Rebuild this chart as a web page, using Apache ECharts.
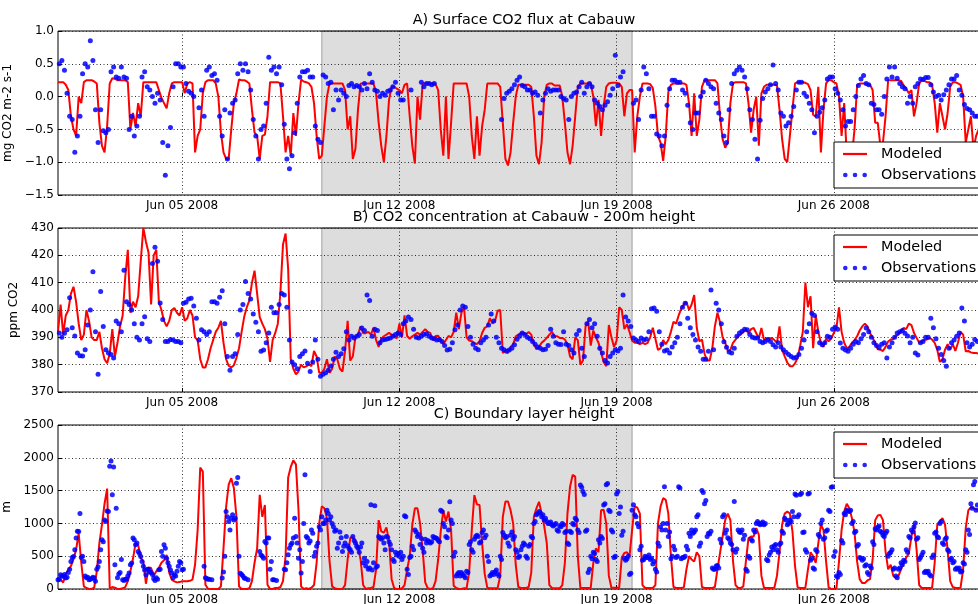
<!DOCTYPE html>
<html><head><meta charset="utf-8">
<script src="https://cdn.jsdelivr.net/npm/echarts@6/dist/echarts.min.js"></script>
<style>html,body{margin:0;padding:0;background:#fff}#c{width:978px;height:604px}</style>
</head><body><div id="c"></div>
<script>
// x values are days since 2008-06-01 00:00
const tickDays = [4, 11, 18, 25];
const tickLabels = ['Jun 05 2008', 'Jun 12 2008', 'Jun 19 2008', 'Jun 26 2008'];
const shadeDays = [8.5, 18.5];
const modelHours = [0, 2, 4, 6, 8, 10, 12, 14, 16, 18, 20, 22];
const obsHours = [1, 3, 5, 7, 9, 11, 13, 15, 17, 19, 21, 23];
const obsHours2 = [0, 2, 4, 6, 8, 10, 12, 14, 16, 18, 20, 22];

// A) Surface CO2 flux (mg CO2 m-2 s-1), one row per day
const fluxModel = [
[0.22,0.22,0.22,0.18,0.1,-0.3,-0.5,-0.6,0.0,-0.1,0.22,0.25],
[0.25,0.25,0.23,0.2,-0.4,-0.75,-0.85,-0.45,0.2,0.28,0.27,0.25],
[0.25,0.25,0.25,0.22,-0.5,-0.25,-0.45,-0.1,-0.3,0.22,0.22,0.22],
[0.22,0.22,0.22,0.1,-0.02,-0.1,-0.18,0.05,0.2,0.22,0.22,0.22],
[0.22,0.05,0.2,0.22,0.2,-0.85,-0.6,-0.5,0.05,0.22,0.25,0.25],
[0.25,0.2,0.0,-0.55,-0.85,-0.95,-0.95,-0.5,-0.1,0.05,0.26,0.25],
[0.25,0.23,0.2,-0.2,-0.55,-0.6,-0.95,-0.6,-0.58,-0.3,0.22,0.22],
[0.22,0.22,0.2,-0.3,-0.85,-0.6,-0.9,-0.25,-0.6,-0.1,0.26,0.23],
[0.22,0.2,0.15,-0.1,-0.6,-0.95,-0.9,-0.45,0.0,0.2,0.2,0.2],
[0.2,0.2,0.2,0.1,-0.5,-0.3,-0.95,-0.8,-0.2,0.2,0.2,0.2],
[0.2,0.2,0.2,0.05,-0.4,-0.75,-1.0,-0.6,-0.05,0.15,0.15,0.12],
[0.1,0.05,0.18,0.2,-0.3,-0.75,-1.02,0.0,-0.35,0.2,0.2,0.2],
[0.2,0.2,0.19,0.1,-0.5,-0.9,0.0,-0.95,-0.4,0.2,0.2,0.2],
[0.2,0.2,0.2,0.0,-0.6,-0.95,-0.3,-0.9,-0.45,-0.2,0.2,0.2],
[0.2,0.2,0.2,0.15,-0.4,-0.95,-1.05,-0.85,-0.4,0.0,0.18,0.18],
[0.18,0.18,0.18,0.15,-0.3,-0.9,-1.03,-0.7,0.0,0.18,0.2,0.2],
[0.17,0.17,0.17,0.0,-0.4,-0.85,-1.03,-0.75,-0.3,0.15,0.2,0.2],
[0.2,0.2,0.2,0.0,-0.45,-0.05,-0.6,-0.15,0.15,0.2,0.21,0.21],
[0.21,0.2,0.15,-0.3,0.05,0.1,0.1,-0.85,-0.3,0.0,0.2,0.2],
[0.2,0.19,0.13,-0.15,-0.6,-0.7,-0.98,-0.6,0.07,0.18,0.2,0.2],
[0.2,0.2,0.2,0.18,-0.1,-0.6,0.05,-0.6,-0.35,0.15,0.25,0.25],
[0.25,0.25,0.25,0.2,-0.3,-0.65,-0.78,-0.7,-0.1,0.2,0.22,0.22],
[0.22,0.22,0.2,-0.1,-0.55,-0.2,0.0,-0.75,0.05,0.15,0.18,0.18],
[0.18,0.18,0.17,-0.2,-0.65,-0.95,-1.0,-0.6,-0.2,0.2,0.22,0.22],
[0.22,0.21,0.19,0.1,-0.28,-0.3,0.15,-0.85,-0.2,0.2,0.25,0.25],
[0.22,0.2,0.0,-0.6,-0.1,-0.9,-0.95,-0.9,-0.5,0.17,0.2,0.2],
[0.2,0.18,0.18,0.1,-0.4,-0.4,-0.75,-0.7,-0.3,0.25,0.25,0.25],
[0.25,0.25,0.24,0.17,0.12,0.05,0.1,-0.3,-0.1,0.2,0.25,0.24],
[0.22,0.22,0.18,-0.1,-0.55,-0.1,-0.3,-0.5,-0.25,0.15,0.22,0.22],
[0.2,0.18,0.0,-0.7,-0.5,-0.3,-0.8,-0.6,-0.5,-0.3,0.1,0.2]
];
const fluxObs = [
[0.5,0.55,0.4,0.05,-0.3,-0.35,-0.85,-0.6,-0.3,0.35,0.5,0.45],
[0.85,0.55,-0.2,-0.7,-0.2,-0.52,-0.55,-0.5,0.38,0.45,0.3,0.28],
[0.45,0.3,0.28,-0.5,-0.3,-0.6,-0.45,-0.3,0.3,0.38,0.15,0.1],
[0.0,-0.1,0.05,-0.05,-0.7,-1.2,-0.75,-0.47,0.15,0.5,0.5,0.45],
[0.45,0.2,0.08,0.05,0.0,null,-0.17,0.1,-0.3,0.4,0.45,0.32],
[0.35,0.25,-0.3,-0.6,-0.2,-0.95,-0.25,-0.1,-0.05,0.35,0.5,0.4],
[0.5,0.38,0.1,-0.35,-0.6,-0.95,-0.5,-0.45,-0.1,0.6,0.4,0.45],
[0.35,0.45,0.18,-0.42,-0.95,-1.1,-0.9,-0.55,-0.1,0.3,0.38,0.38],
[0.4,0.3,0.3,-0.45,-0.65,-0.7,0.33,0.3,0.2,0.22,-0.2,0.1],
[-0.05,0.1,0.05,0.0,0.17,0.2,0.15,0.17,0.15,0.1,0.2,0.12],
[0.35,0.22,0.1,0.08,0.0,0.05,0.02,0.08,0.1,0.15,0.22,0.05],
[-0.05,-0.05,null,null,0.1,null,null,null,0.22,0.15,0.2,0.2],
[0.18,0.2,null,null,null,null,null,null,null,null,null,null],
[null,null,null,null,null,null,null,null,null,null,null,null],
[null,null,null,-0.35,-0.03,0.05,0.08,0.12,0.18,0.25,0.3,0.17],
[0.15,0.1,0.1,0.05,0.07,0.02,-0.25,-0.05,0.05,0.12,0.08,0.1],
[0.1,0.1,0.0,-0.03,-0.05,-0.35,0.0,0.05,0.07,0.15,0.22,0.05],
[0.15,0.2,0.15,-0.05,-0.1,-0.15,-0.2,-0.13,-0.08,0.02,0.12,0.63],
[0.17,0.3,0.38,null,null,null,-0.1,-0.05,-0.35,0.1,0.45,0.35],
[0.12,-0.3,-0.3,-0.57,-0.6,-0.75,-0.6,-0.13,0.12,0.25,0.25,0.22],
[0.22,0.1,0.05,-0.13,-0.4,-0.5,-0.25,-0.25,0.0,0.07,0.25,0.2],
[0.15,0.12,-0.1,-0.25,-0.35,-0.6,-0.7,-0.2,0.2,0.35,0.4,0.45],
[0.4,0.3,0.12,-0.2,-0.35,-0.65,-0.95,-0.36,-0.03,0.07,0.12,0.18],
[0.48,0.2,0.1,-0.25,-0.3,-0.45,-0.4,-0.3,-0.15,0.1,0.22,0.22],
[0.05,0.0,-0.1,-0.2,-0.55,-0.3,-0.24,-0.17,-0.05,0.27,0.3,0.3],
[0.12,0.05,-0.05,-0.2,-0.45,-0.38,-0.38,-0.2,0.0,0.17,0.27,0.32],
[0.2,0.18,-0.1,-0.12,-0.2,-0.2,-0.27,0.0,0.27,0.45,0.3,0.45],
[0.28,0.2,0.15,0.12,-0.1,0.0,-0.1,0.15,0.2,0.27,0.26,0.29],
[0.29,0.18,0.07,0.0,0.02,-0.05,0.03,0.1,0.18,0.27,0.27,0.32],
[0.1,0.02,-0.12,-0.18,-0.2,-0.25,-0.3,-0.3,null,null,null,null]
];

// B) CO2 concentration at 200 m (ppm)
const co2Model = [
[392,402,391,398,400,406,408.5,403,395,389,391,400],
[396,390,389,389,392,386,382,380.5,384,393,383,388],
[394,398,412,422,399,403,401,405,418,430,425,421],
[402,420,422,403,400,396,394,396,400,400.7,399,398],
[401,396,397,400,398,390,389,382,379,379,382,386],
[389,392,393.5,396,388,382,379.6,379,379.8,382.5,386,392],
[397.5,401,403.5,410,414.4,406,397.4,395,393,389.5,381,389],
[391.6,395,406.5,424,428,415,382,378.5,376.5,377.5,380,379],
[379.4,380,379.5,385,383,377,377,378.5,382,377,378.5,383],
[382,378.5,377.5,385,396,381.5,383,390,391,394,391.5,391.5],
[392,391,393.5,389,386.5,389.5,390.4,391,391.6,391,390.4,389.6],
[395,390,398,390.5,389.5,390.4,391,391.6,391,392,393,392],
[391.5,389,390.5,390.6,389,387.5,389,390.5,390,392,399,393],
[399,401,390,388.8,388.6,388,387.5,388.6,391.6,393.5,394,397],
[395,396,399.7,400,384.3,385,384.3,386.5,387.5,390.4,391,391.6],
[391.6,391,392,391,387.5,385.6,386.5,388,388.8,389.8,391,392],
[390.5,390.4,389.8,389.8,389.2,387.5,383,382,390,389,380,381.5],
[394,396,387,392.5,390,388,384.5,381,379.4,394.5,390,386.5],
[388.8,401,400,393,394.8,392,388.8,388,388,387.5,388,387.5],
[388,390,393.5,389.5,385.4,386,389,387.5,389,392,395.7,395],
[398,400.5,402,403,400,402,405.5,393.5,388.5,389.2,384,381.5],
[381.5,386,394,399,395.5,390,388,385,385.4,388,389.2,390.4],
[391,392,392.8,391.5,393,393.4,391.5,389.6,393.4,389,389.6,389.5],
[389.8,389,388,394,385.5,383,380.8,379.4,379.4,380.5,382.5,387],
[392,410,401,405,386,398,392,388,386.5,389.6,388.5,389.6],
[391.6,393.4,401,392,388,386,386.5,388,389,390.4,392.5,394],
[395,394,391.6,389.8,388,385.6,385.5,385,386.5,388.5,389.2,389.4],
[390.4,391,392.4,393.4,393,395,394.5,391.6,389.8,388,388.6,389],
[389.2,389.8,389.2,388,385.4,381,382,385.5,387.5,385.5,387.5,385],
[388,392,391,384.9,385,384.5,384.3,384.3,384,384,384,384]
];
const co2Obs = [
[391.6,390,391.5,392.8,404.5,393.5,390.5,384.3,383.3,383.2,385.5,394.5],
[400,414,392,376.5,406.8,394,385.5,384.3,383.7,382.4,396,395],
[392,414.5,403,402,400,395,390,389,395,397.5,389.5,388.5],
[417,423,417.8,402.6,396.5,388.5,388.5,389.2,389,388.5,388.5,388],
[402.5,402.8,404,404.3,401.5,397,389,392.8,392,391,392,403],
[403,402.5,404.7,407,395,383,378,383,384,391,400,402],
[410.4,406,404,398.5,395.5,392,384.9,385.4,388,391.6,401,399],
[399,402,406,405.5,401,389,381,380,378.5,383,384,385],
[380.5,377.5,381,389,382,375.8,376.5,377,378,379.5,382,384.5],
[383,384,385.8,392,389,390.4,389.8,390.4,391,393.4,392.5,405.5],
[403.5,390.4,393,392.5,388,389,389.2,389.5,389.8,390.4,391,391.6],
[391,395,396,397.4,396.5,393,390,389.8,390.4,391,391.3,390.4],
[389.8,389.5,389,389.2,388.5,387,385.4,385.6,388,392.8,394.5,400],
[401.5,401,394,390,387.5,386,385.5,388,389,390,394.5,398.5],
[396,390,388,386,385.5,384.9,385.4,386,387.3,389.3,390.4,391.6],
[391,390,389.5,388.5,387.5,386.5,386,385.5,385.6,387,393,390.4],
[388,387.5,387.4,392,387.5,387,385.5,384.3,391,392.5,386,383],
[395,396.5,393.5,395,390.4,386,384.3,381.5,380.6,383,384.3,385.5],
[385,386,405.5,397.4,396,394,389.8,389,388.5,389.8,389,389.4],
[392,400.5,400.7,399.5,392,387.5,385,385.4,384.3,386.5,388,390],
[395,401,402.5,397,393.5,391,389,386.5,384.9,382,382,384.9],
[407.3,385.5,402.5,400,395,388.4,386.4,384.6,384.3,386,390.4,391.6],
[392.2,393,392.8,391,390,389.8,389.8,388.5,388,388.5,389.2,388.5],
[387.3,386.5,388,386.5,385.5,384.5,383.7,383,382.4,382.7,383.7,386],
[389,392,395,398.8,398,392,388,387.3,388,390.4,390,393],
[393.8,393,387.9,386,385.4,384.9,386,387.5,388.5,388,389.5,391],
[393.4,392,390,388,387,386.3,387.5,388,382.4,386.5,388,390],
[391.6,392,392.5,391.5,390.5,388,390,384.3,383.5,388,388.5,390],
[390,397,393.5,389.5,386,383.7,381.5,379.4,386,388,389,390.4],
[391.6,400.7,396,388,386.5,387.5,389.2,388.5,null,null,null,null]
];

// C) Boundary layer height (m)
const blhModel = [
[117,140,100,230,294,350,460,600,850,400,40,15],
[0,0,20,270,700,980,1300,1530,10,30,20,0],
[0,10,30,120,269,460,700,670,470,420,80,330],
[320,200,269,320,400,440,520,250,142,117,101,105],
[117,117,117,125,142,370,900,1850,1790,66,5,0],
[0,0,0,40,624,1250,1590,1690,1540,1100,40,0],
[0,0,10,120,400,620,1435,1100,1280,66,0,0],
[15,15,30,120,500,1700,1860,1960,1900,1200,40,0],
[10,0,20,60,400,1000,1260,1230,1080,420,40,10],
[0,0,0,60,450,780,790,730,640,450,60,0],
[10,15,30,300,1050,880,860,940,725,150,10,0],
[0,10,60,300,500,980,1230,1230,1000,600,100,10],
[0,10,120,450,880,1200,1030,1180,900,50,15,0],
[0,10,10,260,900,1430,1290,1280,700,230,20,10],
[10,10,15,200,1100,1333,1333,1200,1000,370,30,15],
[15,15,30,250,1100,1230,1330,1150,960,700,60,15],
[10,10,10,60,400,1150,1560,1740,1714,500,15,15],
[15,15,20,400,620,560,1200,1207,1000,200,20,20],
[20,20,480,550,560,500,900,1260,1240,1150,60,15],
[15,15,15,60,1000,1257,1384,1360,1150,500,30,15],
[15,15,25,300,500,450,420,560,500,30,15,15],
[15,15,30,300,550,800,1055,1150,1050,430,60,15],
[15,40,420,776,800,800,930,826,200,15,15,15],
[15,20,200,560,980,1150,1180,1150,880,350,25,15],
[15,20,300,560,500,400,700,980,900,420,20,0],
[0,10,420,900,1180,1300,1230,1080,860,420,150,90],
[90,130,150,450,1050,1120,1130,1050,573,300,370,200],
[170,200,300,400,480,540,800,980,600,60,15,15],
[15,15,20,400,980,1030,1080,980,600,120,30,15],
[15,20,300,928,1200,1250,1232,1220,1200,900,300,50]
];
const blhObs = [
[150,200,220,180,300,480,600,880,1150,500,200,180],
[150,180,120,340,600,720,1030,1180,1950,1860,1230,230],
[450,130,150,243,395,750,700,540,420,290,300,260],
[220,130,150,300,500,620,400,290,170,200,345,400],
[300,null,null,null,null,null,null,null,345,160,150,140],
[null,null,null,167,500,1100,900,1130,1080,1700,240,200],
[160,140,null,null,null,null,520,470,700,776,421,142],
[130,null,null,300,400,620,700,1080,700,600,420,1740],
[776,730,850,560,700,900,1000,1050,1150,1100,950,900],
[700,780,650,800,620,560,740,650,560,700,470,420],
[320,290,1270,350,776,780,600,790,680,450,560,540],
[560,500,1100,220,500,600,870,830,770,560,700,720],
[720,780,770,720,1180,950,780,1330,1000,560,230,200],
[220,170,250,720,560,800,800,720,900,820,420,220],
[220,290,200,450,820,800,650,870,800,560,500,650],
[680,470,680,780,1030,1150,1160,1130,1080,1000,1020,960],
[1000,880,950,980,880,680,860,980,1050,860,1550,1440],
[900,300,460,540,420,700,770,1300,1610,1180,870,500],
[1485,1250,880,440,500,240,1283,1100,950,650,450,480],
[520,470,420,260,650,900,1560,1000,870,500,600,500],
[1540,480,500,600,800,850,900,1130,700,1470,1350,850],
[880,300,350,320,700,1130,900,760,680,1333,610,870],
[900,820,270,470,730,870,1030,980,1020,1000,430,560],
[600,680,560,700,850,1050,1000,1030,1100,1430,1130,1460],
[870,560,1460,470,300,570,800,1050,780,900,1181,1560],
[570,180,220,700,1130,1190,1200,1030,880,680,470,460],
[370,220,320,680,900,960,860,800,880,540,600,320],
[170,320,370,420,560,776,870,1005,780,480,560,270],
[270,200,520,870,780,1030,680,780,570,470,420,320],
[320,270,380,560,830,1230,1640,1280,null,null,null,null]
];
// second set of boundary-layer observations, read at even hours
const blhObs2 = [
[140,218,193,167,250,421,497,776,877,480,420,170],
[142,160,167,300,420,750,1050,1190,1870,1435,370,170],
[250,140,150,200,370,776,674,573,497,345,218,300],
[250,160,170,294,573,674,470,345,243,218,269,421],
[294,null,null,null,null,null,null,null,null,170,150,null],
[null,null,null,null,260,1180,1030,1080,1050,1612,500,220],
[167,null,null,null,null,null,573,500,725,776,300,142],
[null,null,null,null,294,522,674,776,800,470,243,1000],
[800,700,900,500,650,950,1100,1000,1200,1050,1000,880],
[620,870,570,700,660,600,800,700,620,640,400,350],
[300,1283,400,330,800,760,700,801,720,600,420,520],
[500,450,1115,300,480,650,900,800,680,620,760,740],
[700,800,780,740,1200,1000,800,900,1050,500,200,250],
[250,200,270,680,600,760,820,700,860,780,500,200],
[250,260,230,500,860,780,700,820,760,600,480,600],
[700,500,650,800,1000,1130,1180,1100,1050,1030,1000,980],
[980,900,960,1000,860,700,880,1000,1080,900,1587,1485],
[880,250,500,560,450,750,800,1280,1590,1200,900,480],
[1450,1150,820,470,460,220,1200,1130,1000,600,440,500],
[480,450,380,300,700,950,1000,900,800,460,650,480],
[1560,460,480,650,850,900,870,1100,650,1500,1300,800],
[840,320,300,360,760,1100,850,780,700,600,560,900],
[860,760,300,500,760,900,1000,1000,1000,980,450,520],
[640,660,600,680,880,1080,980,1050,1180,1450,1100,1440],
[860,600,1450,440,320,600,830,1000,760,880,1200,1550],
[500,200,250,740,1150,1200,1180,1000,860,650,480,440],
[350,250,350,720,920,940,880,820,850,500,560,300],
[200,300,400,440,600,800,900,950,760,450,520,250],
[250,220,480,850,800,1000,700,760,600,450,400,300],
[300,260,400,600,900,1300,1590,1200,null,null,null,null]
];

const panelTitles = ['A) Surface CO2 flux at Cabauw', 'B) CO2 concentration at Cabauw - 200m height', 'C) Boundary layer height'];
const yNames = ['mg CO2 m-2 s-1', 'ppm CO2', 'm'];
const yRanges = [[-1.5, 1.0, 0.5], [370, 430, 10], [0, 2500, 500]];

function toPairs(rows, hours) {
  const out = [];
  rows.forEach((r, d) => r.forEach((v, i) => out.push([d + hours[i] / 24, v])));
  return out;
}

const FONT = 'DejaVu Sans';
const gridTops = [31, 228, 425];
const legendTops = [142, 235, 432];
const titleYs = [20, 217, 414];
const nameGaps = [36, 29, 38];
const dotted = { color: '#333', type: [1, 2.5], width: 1 };
const minus = s => String(s).replace('-', '\u2212');
const yFormat = [v => minus(v.toFixed(1)), v => String(v), v => String(v)];

const grids = [], xAxes = [], yAxes = [], legends = [], graphics = [], series = [];
const modelSets = [fluxModel, co2Model, blhModel];
const obsSets = [[fluxObs], [co2Obs], [blhObs, blhObs2]];
const obsHourSets = [obsHours, obsHours2];

for (let i = 0; i < 3; i++) {
  grids.push({ left: 58, top: gridTops[i], width: 931, height: 164, show: true, borderColor: '#000', borderWidth: 1,
    backgroundColor: 'transparent', outerBoundsMode: 'none', containLabel: false });
  xAxes.push({
    type: 'value', gridIndex: i, min: 0, max: 30,
    axisLine: { show: false },
    axisTick: { show: true, inside: true, length: 4, customValues: tickDays, lineStyle: { color: '#000' } },
    axisLabel: { show: true, customValues: tickDays, margin: 5, color: '#000', fontSize: 12, fontFamily: FONT,
      formatter: v => { const k = tickDays.indexOf(Math.round(v)); return k >= 0 ? tickLabels[k] : ''; } },
    splitLine: { show: true, lineStyle: dotted }
  });
  yAxes.push({
    type: 'value', gridIndex: i, min: yRanges[i][0], max: yRanges[i][1], interval: yRanges[i][2],
    name: yNames[i], nameLocation: 'middle', nameGap: nameGaps[i],
    nameTextStyle: { color: '#000', fontSize: 12, fontFamily: FONT },
    axisLine: { show: false },
    axisTick: { show: true, inside: true, length: 4, lineStyle: { color: '#000' } },
    axisLabel: { color: '#000', fontSize: 12, fontFamily: FONT, margin: 4, formatter: yFormat[i] },
    splitLine: { show: true, lineStyle: dotted }
  });
  legends.push({
    orient: 'vertical', left: 834, top: legendTops[i],
    itemWidth: 24, itemHeight: 14, itemGap: 7,
    padding: [5, 60, 6, 9],
    borderColor: '#000', borderWidth: 1, backgroundColor: '#fff', borderRadius: 0,
    selectedMode: false,
    textStyle: { color: '#000', fontSize: 14.4, fontFamily: FONT, lineHeight: 14, padding: [0, 0, 0, 9] },
    data: [
      { name: 'Modeled', icon: 'path://M0,0H24V2.2H0Z' },
      { name: 'Observations', icon: 'path://M0,2.5A2.5,2.5,0,1,1,5,2.5A2.5,2.5,0,1,1,0,2.5ZM10.5,2.5A2.5,2.5,0,1,1,15.5,2.5A2.5,2.5,0,1,1,10.5,2.5ZM21,2.5A2.5,2.5,0,1,1,26,2.5A2.5,2.5,0,1,1,21,2.5Z' }
    ]
  });
  graphics.push({
    type: 'text', x: 524, y: titleYs[i], silent: true,
    style: { text: panelTitles[i], fill: '#000', font: '14.4px "DejaVu Sans"', align: 'center', verticalAlign: 'middle', textAlign: 'center', textVerticalAlign: 'middle' }
  });
  series.push({
    type: 'line', name: 'shade' + i, xAxisIndex: i, yAxisIndex: i, data: [], z: 1, silent: true,
    markArea: { silent: true, itemStyle: { color: 'rgba(0,0,0,0.135)', borderColor: 'rgba(0,0,0,0.33)', borderWidth: 1 },
      data: [[{ xAxis: shadeDays[0] }, { xAxis: shadeDays[1] }]] }
  });
  series.push({
    type: 'line', name: 'Modeled', xAxisIndex: i, yAxisIndex: i, data: toPairs(modelSets[i], modelHours),
    showSymbol: false, symbol: 'none', lineStyle: { color: '#ff0000', width: 2 }, itemStyle: { color: '#ff0000' },
    z: 3, animation: false
  });
  obsSets[i].forEach((rows, k) => {
    series.push({
      type: 'scatter', name: 'Observations', xAxisIndex: i, yAxisIndex: i, data: toPairs(rows, obsHourSets[k]),
      symbolSize: 5, itemStyle: { color: '#0000ff', opacity: 0.85 }, z: 4, animation: false
    });
  });
}

const chart = echarts.init(document.getElementById('c'), null, { renderer: 'canvas' });
chart.setOption({
  animation: false,
  backgroundColor: '#fff',
  textStyle: { fontFamily: FONT },
  grid: grids, xAxis: xAxes, yAxis: yAxes, legend: legends, graphic: graphics, series: series
});
</script></body></html>
